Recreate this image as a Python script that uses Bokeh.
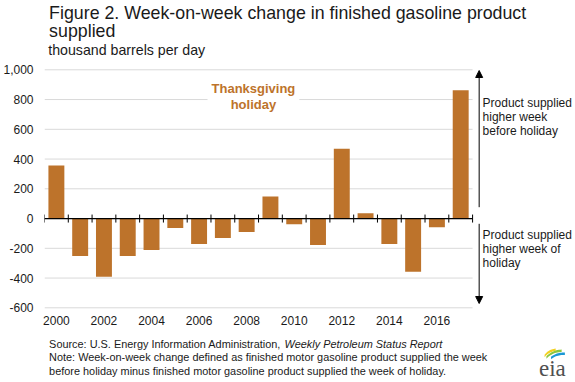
from bokeh.plotting import figure
from bokeh.layouts import column
from bokeh.models import Range1d, FixedTicker, NumeralTickFormatter, Label, Arrow, NormalHead
from bokeh.embed import file_html
from bokeh.resources import INLINE
import numpy as np

# ---- data ----
years = list(range(2000, 2018))
change = [356, -251, -391, -251, -211, -64, -171, -131, -91, 149, -38, -178, 469, 36, -171, -358, -58, 862]
y_ticks = [-600, -400, -200, 0, 200, 400, 600, 800, 1000]
x_ticks = [2000, 2002, 2004, 2006, 2008, 2010, 2012, 2014, 2016]

title_lines = ["Figure 2. Week-on-week change in finished gasoline product", "supplied"]
subtitle = "thousand barrels per day"
annot_up = ["Product supplied", "higher week", "before holiday"]
annot_down = ["Product supplied", "higher week of", "holiday"]
holiday_text = "Thanksgiving\nholiday"
source_plain = "Source: U.S. Energy Information Administration, "
source_italic = "Weekly Petroleum Status Report"
note_lines = ["Note: Week-on-week change defined as finished motor gasoline product supplied the week",
              "before holiday minus finished motor gasoline product supplied the week of holiday."]

BAR = "#bd732b"
GRID = "#d9d9d9"
TXT = "#1a1a1a"
FONT = "Liberation Sans"
BS = 4   # baseline correction (px) for alphabetic-anchored texts

W = 575
HEAD_H = 62          # header strip (page y 0..62)
MAIN_H = 268         # main chart (page y 62..330)
FOOT_H = 382 - HEAD_H - MAIN_H

def strip(h, y_top):
    f = figure(width=W, height=h, output_backend="svg", toolbar_location=None, title=None,
               x_range=Range1d(0, W), y_range=Range1d(y_top + h, y_top),
               x_axis_type=None, y_axis_type=None, min_border=0)
    f.outline_line_color = None
    f.grid.visible = False
    return f

# ---- header ----
head = strip(HEAD_H, 0)
head.text(x=[5, 5], y=[16.7 - BS, 34.5 - BS], text=title_lines, text_baseline="alphabetic",
          text_font_size="17.8px", text_color=TXT, text_font={"value": FONT})
head.text(x=[4], y=[53.3 - BS], text=[subtitle], text_baseline="alphabetic",
          text_font_size="14.2px", text_color=TXT, text_font={"value": FONT})

# ---- main chart ----
FL = 42                       # frame left (page px)
FB = 20                       # bottom axis strip
PLOT_END = 471.7              # page x of right end of the bar region
Y1000, YM600 = 69.3, 307.3    # page y of the 1000 and -600 gridlines
x0 = years[0] - 0.5
x_end_cat = years[-1] + 0.5
SX = (PLOT_END - FL) / (x_end_cat - x0)
SY = (YM600 - Y1000) / (y_ticks[-1] - y_ticks[0])

def dx(px):
    return x0 + (px - FL) / SX

def dy(py):
    return y_ticks[-1] - (py - Y1000) / SY

frame_bottom = HEAD_H + MAIN_H - FB
p = figure(width=W, height=MAIN_H, output_backend="svg", toolbar_location=None, title=None,
           x_range=Range1d(x0, dx(W)), y_range=Range1d(dy(frame_bottom), dy(HEAD_H)),
           min_border_left=FL, min_border_right=0, min_border_top=0, min_border_bottom=FB)
p.outline_line_color = None
p.xgrid.visible = False
p.ygrid.visible = False

p.segment(x0=[x0] * len(y_ticks), x1=[x_end_cat] * len(y_ticks), y0=y_ticks, y1=y_ticks,
          line_color=GRID, line_width=1)
p.vbar(x=years, top=change, width=0.67, bottom=0, fill_color=BAR, line_color=None)

p.segment(x0=[x0], x1=[x_end_cat], y0=[0], y1=[0], line_color="black", line_width=1.2)
edges = [x0 + i for i in range(len(years) + 1)]
tick_half = 4 / SY
p.segment(x0=edges, x1=edges, y0=[-tick_half] * len(edges), y1=[tick_half] * len(edges),
          line_color="black", line_width=1)

for ax in (p.yaxis[0], p.xaxis[0]):
    ax.axis_line_color = None
    ax.major_tick_line_color = None
    ax.minor_tick_line_color = None
    ax.major_tick_out = 0
    ax.major_tick_in = 0
    ax.major_label_text_font = FONT
    ax.major_label_text_font_size = "12px"
    ax.major_label_text_color = TXT
p.yaxis.ticker = FixedTicker(ticks=y_ticks)
p.yaxis.formatter = NumeralTickFormatter(format="0,0")
p.yaxis.major_label_standoff = 11
p.xaxis.ticker = FixedTicker(ticks=x_ticks)
p.xaxis.major_label_standoff = 5

ax_x = dx(478.3)
head_style = dict(size=7, fill_color="black", line_color="black")
p.add_layout(Arrow(x_start=ax_x, y_start=dy(206.7), x_end=ax_x, y_end=dy(70), line_color="black",
                   line_width=1, end=NormalHead(**head_style)))
p.add_layout(Arrow(x_start=ax_x, y_start=dy(223.3), x_end=ax_x, y_end=dy(303), line_color="black",
                   line_width=1, end=NormalHead(**head_style)))

def lab(text, px, py, size, color=TXT, style="normal", align="left", baseline="alphabetic", **kw):
    p.add_layout(Label(x=dx(px), y=dy(py), text=text, text_font=FONT, text_font_size=size,
                       text_color=color, text_font_style=style, text_align=align,
                       text_baseline=baseline, **kw))

for i, t in enumerate(annot_up):
    lab(t, 481.7, 106 - BS + 14 * i, "12px")
for i, t in enumerate(annot_down):
    lab(t, 481.7, 238.3 - BS + 14.2 * i, "12px")

lab(holiday_text, 251.7, 76, "13px", color=BAR, style="bold", align="center", baseline="top",
    text_line_height=1.08, background_fill_color="white", padding=4)

# ---- footer ----
foot = strip(FOOT_H, HEAD_H + MAIN_H)
foot.text(x=[5, 5, 5], y=[347.3 - BS, 360.8 - BS, 374.2 - BS], text=[source_plain] + note_lines,
          text_baseline="alphabetic", text_font_size="10.9px", text_color=TXT,
          text_font={"value": FONT})
foot.text(x=[260], y=[347.3 - BS], text=[source_italic], text_baseline="alphabetic",
          text_font_size="10.9px", text_font_style="italic", text_color=TXT,
          text_font={"value": FONT})
foot.text(x=[535.5], y=[371.5 - BS], text=["eia"], text_baseline="alphabetic", text_font_size="23px",
          text_color="#505050", text_font={"value": "Liberation Serif"})

def band(fig, start, ctrl, end, thick, color):
    t = np.linspace(0, 1, 14)
    bx = (1 - t) ** 2 * start[0] + 2 * (1 - t) * t * ctrl[0] + t ** 2 * end[0]
    by = (1 - t) ** 2 * start[1] + 2 * (1 - t) * t * ctrl[1] + t ** 2 * end[1]
    fig.patch(x=list(bx) + list(bx[::-1]), y=list(by - thick / 2) + list((by + thick / 2)[::-1]),
              fill_color=color, line_color=None)

band(foot, (541.5, 355.5), (546, 350), (553.5, 349.3), 2.4, "#f2d01f")
band(foot, (543.5, 357), (550, 350.5), (560, 350.3), 2.4, "#8cc63f")
band(foot, (548.5, 357.5), (555, 352.8), (563.5, 353.3), 2.4, "#1b98d5")

layout = column(head, p, foot, spacing=0)
open("out.html", "w").write(file_html(layout, INLINE))
